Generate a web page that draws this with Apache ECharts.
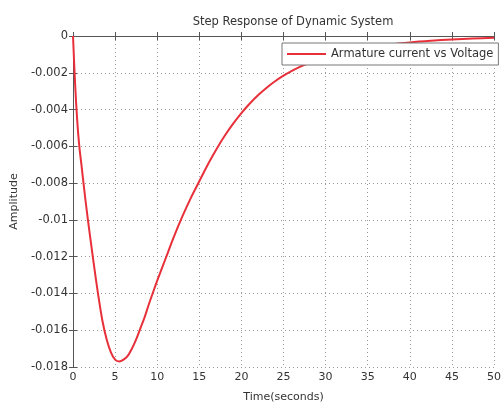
<!DOCTYPE html>
<html><head><meta charset="utf-8">
<script src="https://cdn.jsdelivr.net/npm/echarts@6/dist/echarts.min.js"></script>
<style>html,body{margin:0;padding:0;background:#fff}#c{width:504px;height:408px}</style>
</head><body><div id="c"></div>
<script>
var titleText = 'Step Response of Dynamic System';
var seriesName = 'Armature current vs Voltage';
var timeValues = [0, 0.25, 0.5, 0.75, 1.0, 1.5, 2.0, 2.5, 3.0, 3.5, 4.0, 4.5, 5.0, 5.5, 6.0, 6.5, 7.0, 7.5, 8.0, 8.5, 9.0, 9.5, 10, 11, 12, 13, 14, 15, 16, 17, 18, 19, 20, 21, 22, 23, 24, 25, 26, 27, 28, 29, 30, 32.5, 35, 37.5, 40, 42.5, 45, 47.5, 50];
var ampValues = [0, -0.0026, -0.0046, -0.0060, -0.0070, -0.0090, -0.0108, -0.0125, -0.0141, -0.0155, -0.0165, -0.0172, -0.0176, -0.0177, -0.0176, -0.0174, -0.0170, -0.0165, -0.0159, -0.0153, -0.0146, -0.01395, -0.0133, -0.0121, -0.0109, -0.0098, -0.0088, -0.0079, -0.0070, -0.00618, -0.00544, -0.00478, -0.00419, -0.00367, -0.00321, -0.00281, -0.00246, -0.00216, -0.0019, -0.00167, -0.00147, -0.0013, -0.00115, -0.00085, -0.00063, -0.00047, -0.00035, -0.00026, -0.00019, -0.00014, -0.0001];
var pts = timeValues.map(function(t,i){return [t, ampValues[i]];});
var font = 'DejaVu Sans';
var chart = echarts.init(document.getElementById('c'), null, {renderer:'canvas'});
var gridLine = {show:true, lineStyle:{type:[1,3], color:'#9a9a9a', width:1}};
var axLine = {show:true, lineStyle:{color:'#555', width:1}};
var tick = {show:true, inside:true, length:4, lineStyle:{color:'#555'}};
chart.setOption({
  animation:false,
  backgroundColor:'#fff',
  title:{text:titleText, left:288, textAlign:'center', top:11, textStyle:{fontFamily:font, fontSize:11.5, fontWeight:'normal', color:'#333'}},
  legend:{data:[seriesName], left:282, top:43, orient:'horizontal', backgroundColor:'#fff', borderColor:'#777', borderWidth:1, borderRadius:0, padding:[5,5,5,5], itemWidth:39, itemHeight:2, itemGap:4, icon:'rect', textStyle:{fontFamily:font, fontSize:11.5, color:'#333', padding:[0,0,0,0]}},
  grid:{left:73, right:1, top:36, bottom:34, containLabel:false},
  xAxis:[{type:'value', min:0, max:50, interval:5, position:'bottom',
    name:'Time(seconds)', nameLocation:'middle', nameGap:25, nameTextStyle:{fontFamily:font, fontSize:11, color:'#333'},
    axisLine:axLine, axisTick:tick,
    axisLabel:{fontFamily:font, fontSize:11, color:'#333', margin:5}, splitLine:gridLine},
    {type:'value', min:0, max:50, interval:5, position:'top', axisLine:axLine, axisTick:tick, axisLabel:{show:false}, splitLine:{show:false}}],
  yAxis:[{type:'value', min:-0.018, max:0, interval:0.002, position:'left',
    name:'Amplitude', nameLocation:'middle', nameGap:50, nameTextStyle:{fontFamily:font, fontSize:11, color:'#333'},
    axisLine:axLine, axisTick:tick,
    axisLabel:{fontFamily:font, fontSize:11.5, color:'#333', margin:5, formatter:function(v){return String(parseFloat(v.toFixed(4)));}}, splitLine:gridLine},
    {type:'value', min:-0.018, max:0, interval:0.002, position:'right', axisLine:axLine, axisTick:tick, axisLabel:{show:false}, splitLine:{show:false}}],
  series:[{name:seriesName, type:'line', data:pts, smooth:0.3, showSymbol:false, symbol:'none', xAxisIndex:0, yAxisIndex:0,
    lineStyle:{color:'#e8303a', width:2}, itemStyle:{color:'#e8303a'}}]
});
</script></body></html>
